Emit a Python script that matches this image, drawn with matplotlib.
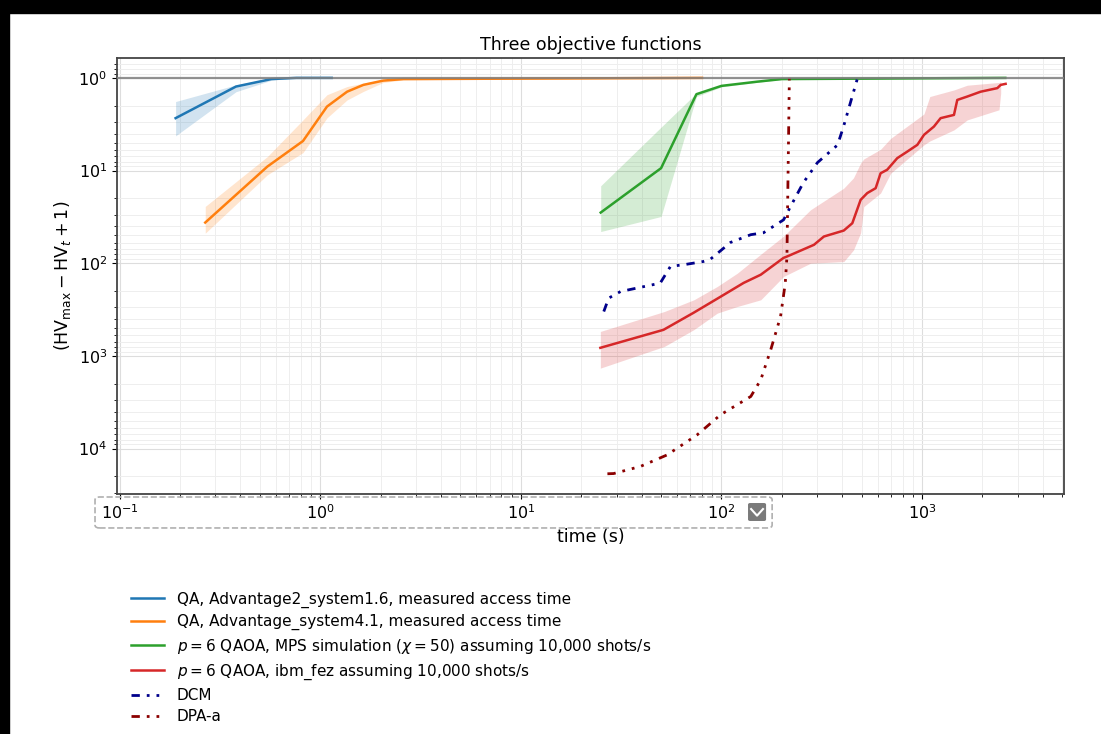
import matplotlib
matplotlib.use('Agg')
import matplotlib.pyplot as plt
from matplotlib.patches import Rectangle, FancyBboxPatch
from matplotlib.lines import Line2D

# --- data (time in s, y = HV_max - HV_t + 1) ---
qa2_t = [0.19, 0.38, 0.57, 0.76, 0.95, 1.14]
qa2_v = [2.72, 1.24, 1.03, 1.0, 1.0, 1.0]
qa2_lo = [1.8, 1.19, 1.0, 1.0, 1.0, 1.0]
qa2_hi = [4.22, 1.41, 1.06, 1.0, 1.0, 1.0]

qa4_t = [0.267, 0.545, 0.82, 1.08, 1.36, 1.64, 2.06, 2.6, 80]
qa4_v = [36.4, 9.05, 4.8, 2.04, 1.41, 1.19, 1.07, 1.03, 1.0]
qa4_lo = [24.4, 7.06, 2.84, 1.52, 1.24, 1.14, 1.04, 1.01, 1.0]
qa4_hi = [47.4, 11.1, 6.4, 2.7, 1.73, 1.40, 1.12, 1.05, 1.0]

mps_t = [25, 50, 75, 100, 150, 200, 2600]
mps_v = [28.4, 9.42, 1.5, 1.22, 1.1, 1.03, 1.0]
mps_lo = [14.6, 3.4, 1.46, 1.2, 1.08, 1.02, 1.0]
mps_hi = [45.5, 31.3, 1.59, 1.25, 1.12, 1.04, 1.0]

fez_t = [24.9, 51.4, 72.5, 98.9, 129, 157, 204, 212, 289, 324, 407, 449, 494, 533,
         587, 621, 670, 752, 844, 947, 1022, 1146, 1237, 1442, 1498, 1680, 1958,
         2372, 2466, 2609]
fez_v = [818, 523, 343, 230, 163, 133, 87.5, 84.7, 63.3, 51.5, 44.4, 37, 20.7, 17.5,
         15.5, 10.7, 9.8, 7.35, 6.24, 5.28, 4.12, 3.35, 2.72, 2.51, 1.73, 1.59, 1.41,
         1.29, 1.19, 1.16]
fez_band_t = [24.9, 51.9, 72.9, 95.4, 120, 157, 204, 278, 407, 455, 494, 512, 621,
              697, 1022, 1093, 1442, 1680, 2418, 2466]
fez_lo = [545, 332, 248, 178, 128, 80, 51, 26.5, 15.5, 12, 8.3, 7.5, 5.9, 4.5, 2.45,
          1.59, 1.35, 1.2, 1.12, 1.1]
fez_hi = [1355, 791, 520, 345, 293, 248, 139, 100, 96, 72, 47, 24.5, 17.5, 10.7, 5.28,
          4.8, 3.64, 2.84, 2.21, 1.46]

dcm_t = [25.9, 27.4, 31.4, 49.5, 55.7, 64.5, 81.0, 88, 111, 140, 162, 204, 221, 256,
         301, 379, 406, 477]
dcm_v = [332, 238, 202, 164, 108, 104, 95.9, 90.6, 59.6, 49.2, 46.9, 34, 24.4, 13.5,
         8.2, 5.3, 3.35, 1.0]

dpa_t = [27.0, 29.0, 39.4, 53.6, 75.7, 98.9, 140, 157, 176, 197, 208, 212, 218]
dpa_v = [18700, 18600, 15600, 11700, 7100, 4320, 2740, 1810, 859, 376, 164, 84.7, 1.0]

labels = [
    'QA, Advantage2_system1.6, measured access time',
    'QA, Advantage_system4.1, measured access time',
    r'$p = 6$ QAOA, MPS simulation ($\chi = 50$) assuming 10,000 shots/s',
    r'$p = 6$ QAOA, ibm_fez assuming 10,000 shots/s',
    'DCM',
    'DPA-a',
]

plt.rcParams['font.size'] = 11.5

fig = plt.figure(figsize=(11.01, 7.34), dpi=100)
ax = fig.add_axes([0.1063, 0.327, 0.8601, 0.594])

ax.plot(qa2_t, qa2_v, color='tab:blue', lw=1.8, label=labels[0])
ax.fill_between(qa2_t, qa2_lo, qa2_hi, color='tab:blue', alpha=0.2, lw=0)
ax.plot(qa4_t, qa4_v, color='tab:orange', lw=1.8, label=labels[1])
ax.fill_between(qa4_t, qa4_lo, qa4_hi, color='tab:orange', alpha=0.2, lw=0)
ax.plot(mps_t, mps_v, color='tab:green', lw=1.8, label=labels[2])
ax.fill_between(mps_t, mps_lo, mps_hi, color='tab:green', alpha=0.2, lw=0)
ax.plot(fez_t, fez_v, color='tab:red', lw=1.8, label=labels[3])
ax.fill_between(fez_band_t, fez_lo, fez_hi, color='tab:red', alpha=0.2, lw=0)

ax.plot(dcm_t, dcm_v, color='darkblue', lw=2, ls=(0, (3, 2.5, 1, 2.5, 1, 2.5)),
        label=labels[4])
ax.plot(dpa_t, dpa_v, color='darkred', lw=2,
        ls=(0, (3, 2.5, 1, 2.5, 1, 2.5, 1, 2.5, 1, 2.5)), label=labels[5])

# reference line at the optimum
ax.axhline(1, color='grey', lw=1.6, alpha=0.85, zorder=3)

ax.set_xscale('log')
ax.set_yscale('log')
ax.set_xlim(0.097, 5100)
ax.set_ylim(30900, 0.61)  # inverted

ax.grid(True, which='major', color='#dddddd', lw=0.8)
ax.grid(True, which='minor', color='#eeeeee', lw=0.7)
ax.set_axisbelow(True)
for sp in ax.spines.values():
    sp.set_color('#444444')
    sp.set_linewidth(1.3)

ax.set_title('Three objective functions', fontsize=12.5)
ax.set_xlabel('time (s)', fontsize=12.5)
ax.set_ylabel(r'$(\mathrm{HV}_{\max} - \mathrm{HV}_t + 1)$', fontsize=12.5)

ax.legend(loc='upper left', bbox_to_anchor=(0.0, -0.192), frameon=False,
          fontsize=11, handlelength=2.2, labelspacing=0.42)

# screenshot artefacts: dashed selection box and button, black border
fig.patches.append(FancyBboxPatch((0.0863, 0.2807), 0.615, 0.0422,
                                  boxstyle='round,pad=0,rounding_size=0.004',
                                  transform=fig.transFigure, fill=False,
                                  ec='#b0b0b0', ls='--', lw=1.2))
fig.patches.append(FancyBboxPatch((0.6794, 0.2902), 0.0164, 0.0245,
                                  boxstyle='round,pad=0,rounding_size=0.002',
                                  transform=fig.transFigure, fc='#7a7a7a', ec='none'))
fig.lines.append(Line2D([0.6822, 0.6876, 0.6930], [0.3065, 0.2975, 0.3065],
                        transform=fig.transFigure, color='white', lw=1.5))
fig.patches.append(Rectangle((0, 1 - 13 / 734), 1, 13 / 734, transform=fig.transFigure,
                             color='black'))
fig.patches.append(Rectangle((0, 0), 9 / 1101, 1, transform=fig.transFigure,
                             color='black'))

fig.savefig('out.png', dpi=100)
